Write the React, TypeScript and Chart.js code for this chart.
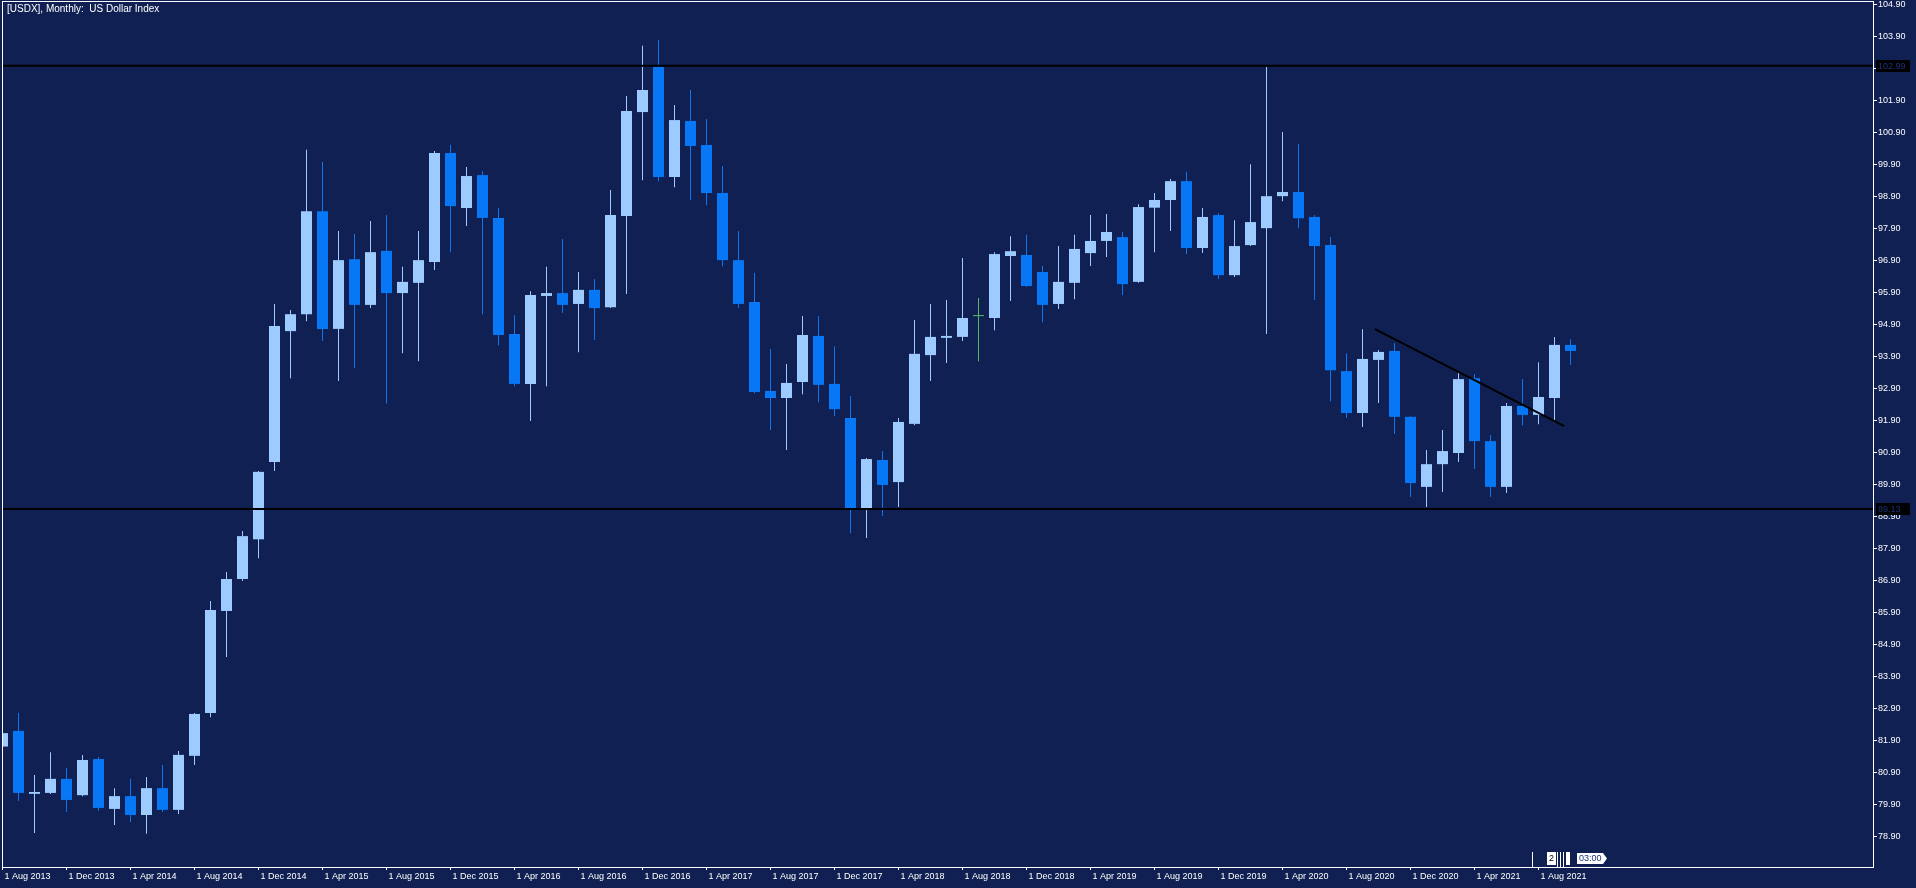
import React, { useEffect, useRef } from 'react';
import { Chart, registerables } from 'chart.js';

Chart.register(...registerables);

// Monthly candles, Aug 2013 .. Oct 2021 (index 0 = Aug 2013)
const opens = [
  81.70, 82.19, 80.22, 80.25, 80.69, 80.18, 81.31, 79.75, 80.15, 79.56, 80.40, 79.72,
  81.41, 82.75, 85.94, 86.94, 88.18, 90.60, 94.69, 95.22, 98.44, 94.76, 96.94, 95.51,
  97.20, 95.88, 96.20, 96.85, 100.26, 98.54, 99.57, 98.23, 94.60, 93.04, 95.79, 95.88,
  95.54, 95.98, 95.44, 98.29, 101.54, 102.95, 99.51, 101.26, 100.51, 99.01, 96.91, 95.60,
  92.82, 92.60, 93.10, 94.54, 93.04, 91.97, 89.16, 90.66, 89.97, 91.79, 93.94, 94.48,
  94.51, 95.16, 95.10, 97.04, 97.07, 96.54, 95.54, 96.20, 97.13, 97.51, 97.63, 96.23,
  98.55, 98.79, 99.38, 97.29, 98.32, 96.44, 97.38, 97.91, 98.91, 99.04, 98.26, 97.38,
  93.44, 92.13, 93.79, 94.07, 92.01, 89.82, 90.53, 90.88, 93.22, 91.25, 89.82, 92.35,
  92.07, 92.60, 94.26,
];
const highs = [
  82.25, 82.75, 80.81, 81.52, 81.03, 81.44, 81.37, 80.40, 80.69, 80.75, 81.12, 81.56,
  82.75, 86.25, 87.16, 88.44, 90.32, 95.54, 95.35, 100.36, 99.98, 97.82, 97.73, 98.13,
  98.32, 96.70, 97.82, 100.32, 100.51, 99.82, 99.70, 98.54, 95.19, 95.94, 96.70, 97.57,
  96.54, 96.32, 99.10, 102.04, 103.61, 103.79, 101.76, 102.23, 101.32, 99.85, 97.82, 96.51,
  94.13, 93.66, 95.16, 95.16, 94.22, 92.66, 90.72, 90.94, 91.97, 95.04, 95.54, 95.66,
  96.98, 95.73, 97.16, 97.66, 97.70, 96.73, 97.35, 97.70, 98.32, 98.35, 97.79, 98.66,
  99.01, 99.45, 99.67, 98.54, 98.38, 98.16, 99.91, 102.95, 100.92, 100.54, 98.32, 97.63,
  94.00, 94.75, 94.10, 94.32, 92.03, 90.97, 91.60, 93.44, 93.35, 91.44, 92.44, 93.19,
  93.72, 94.51, 94.44,
];
const lows = [
  81.55, 80.00, 79.00, 80.22, 79.65, 80.15, 79.69, 79.25, 79.34, 78.97, 79.65, 79.59,
  81.12, 82.62, 84.50, 86.88, 87.59, 90.32, 93.22, 95.00, 94.38, 93.13, 93.53, 95.41,
  92.43, 94.00, 93.75, 96.60, 97.16, 97.98, 95.22, 94.25, 92.97, 91.88, 92.97, 95.26,
  94.03, 94.41, 95.41, 95.85, 99.41, 99.38, 99.19, 98.79, 98.63, 96.72, 95.41, 92.75,
  91.60, 90.97, 92.72, 92.47, 92.04, 88.37, 88.22, 88.91, 89.19, 91.75, 93.13, 93.69,
  94.38, 93.75, 94.72, 95.63, 96.07, 94.97, 95.38, 95.69, 96.73, 97.01, 95.82, 96.20,
  97.16, 97.82, 97.10, 97.13, 96.32, 96.38, 97.35, 94.60, 98.75, 97.91, 95.66, 92.50,
  91.97, 91.69, 92.44, 91.47, 89.50, 89.19, 89.66, 90.60, 90.38, 89.50, 89.63, 91.75,
  91.78, 91.91, 93.63,
];
const closes = [
  82.12, 80.25, 80.28, 80.69, 80.03, 81.28, 79.78, 80.15, 79.56, 80.40, 79.72, 81.44,
  82.72, 85.97, 86.94, 88.28, 90.29, 94.85, 95.22, 98.44, 94.76, 96.91, 95.51, 97.16,
  95.88, 96.23, 96.91, 100.26, 98.60, 99.54, 98.23, 94.57, 93.04, 95.82, 95.88, 95.51,
  95.98, 95.41, 98.32, 101.57, 102.23, 99.51, 101.29, 100.48, 99.01, 96.91, 95.54, 92.79,
  92.60, 93.07, 94.57, 93.01, 92.25, 89.16, 90.69, 89.88, 91.85, 93.98, 94.51, 94.54,
  95.10, 95.16, 97.10, 97.19, 96.10, 95.51, 96.23, 97.26, 97.51, 97.79, 96.16, 98.57,
  98.79, 99.38, 97.29, 98.26, 96.44, 97.35, 98.10, 98.91, 99.04, 98.22, 97.35, 93.47,
  92.13, 93.82, 94.04, 92.01, 89.94, 90.53, 90.94, 93.19, 91.25, 89.82, 92.35, 92.07,
  92.63, 94.26, 94.07,
];

const xTickIndex = [0, 4, 8, 12, 16, 20, 24, 28, 32, 36, 40, 44, 48, 52, 56, 60, 64, 68, 72, 76, 80, 84, 88, 92, 96];
const xTickLabels = [
  '1 Aug 2013', '1 Dec 2013', '1 Apr 2014', '1 Aug 2014', '1 Dec 2014', '1 Apr 2015', '1 Aug 2015',
  '1 Dec 2015', '1 Apr 2016', '1 Aug 2016', '1 Dec 2016', '1 Apr 2017', '1 Aug 2017', '1 Dec 2017',
  '1 Apr 2018', '1 Aug 2018', '1 Dec 2018', '1 Apr 2019', '1 Aug 2019', '1 Dec 2019', '1 Apr 2020',
  '1 Aug 2020', '1 Dec 2020', '1 Apr 2021', '1 Aug 2021',
];
const yTickValues = [
  78.9, 79.9, 80.9, 81.9, 82.9, 83.9, 84.9, 85.9, 86.9, 87.9, 88.9, 89.9, 90.9, 91.9,
  92.9, 93.9, 94.9, 95.9, 96.9, 97.9, 98.9, 99.9, 100.9, 101.9, 102.9, 103.9, 104.9,
];
const levelLines = [102.99, 89.13];
const trendX = [85.78, 97.61];
const trendY = [94.75, 91.72];

const TITLE = '[USDX], Monthly:  US Dollar Index';

const BG = '#102052';
const BULL = '#9dcaff';
const BEAR = '#0777f5';
const DOJI = '#55b862';
const FONT = '"Liberation Sans", Arial, sans-serif';

const X_MIN = -0.03125;
const X_MAX = X_MIN + 1871 / 16;
const Y_MIN = 77.934;
const Y_MAX = 105.013;

const colorOf = (i: number) =>
  opens[i] === closes[i] ? DOJI : closes[i] > opens[i] ? BULL : BEAR;

const bgPlugin = {
  id: 'bgFill',
  beforeDraw(chart: any) {
    const ctx = chart.ctx;
    ctx.save();
    ctx.fillStyle = BG;
    ctx.fillRect(0, 0, chart.width, chart.height);
    ctx.restore();
  },
};

const overlayPlugin = {
  id: 'overlay',
  afterDraw(chart: any) {
    const ctx = chart.ctx;
    const { left, top, right, bottom } = chart.chartArea;
    ctx.save();
    // frame
    ctx.strokeStyle = '#ffffff';
    ctx.lineWidth = 1;
    ctx.strokeRect(left + 0.5, top + 0.5, right - left, bottom - top);

    // level price labels on the axis
    const ys = chart.scales.y;
    ctx.font = `9px ${FONT}`;
    ctx.textBaseline = 'middle';
    ctx.textAlign = 'left';
    levelLines.forEach((v) => {
      const py = Math.round(ys.getPixelForValue(v));
      ctx.fillStyle = '#000000';
      ctx.fillRect(right + 3, py - 6, 34, 12);
      ctx.fillStyle = '#1c3276';
      ctx.fillText(v.toFixed(2), right + 5, py + 0.5);
    });

    // time markers bottom right
    ctx.strokeStyle = '#ffffff';
    [1532.5, 1557.5, 1560.5, 1563.5].forEach((x) => {
      ctx.beginPath();
      ctx.moveTo(x, 852);
      ctx.lineTo(x, bottom);
      ctx.stroke();
    });
    ctx.fillStyle = '#ffffff';
    ctx.fillRect(1547, 852, 9, 13);
    ctx.fillRect(1566, 852, 4, 13);
    ctx.beginPath();
    ctx.moveTo(1577, 853);
    ctx.lineTo(1603, 853);
    ctx.lineTo(1607, 858.5);
    ctx.lineTo(1603, 864);
    ctx.lineTo(1577, 864);
    ctx.closePath();
    ctx.fill();
    ctx.fillStyle = '#000000';
    ctx.font = `9px ${FONT}`;
    ctx.textAlign = 'center';
    ctx.fillText('2', 1551.5, 859);
    ctx.fillStyle = '#1c3276';
    ctx.textAlign = 'left';
    ctx.fillText('03:00', 1579, 859);
    ctx.restore();
  },
};

export default function App() {
  const ref = useRef<HTMLCanvasElement>(null);

  useEffect(() => {
    if (!ref.current) return;
    const idx = opens.map((_, i) => i);
    const colors = idx.map(colorOf);

    const lineDs = (pts: { x: number; y: number }[]) => ({
      type: 'line' as const,
      data: pts,
      borderColor: '#000000',
      borderWidth: 2,
      pointRadius: 0,
      fill: false,
      tension: 0,
      order: 0,
    });

    const chart = new Chart(ref.current, {
      type: 'bar',
      data: {
        datasets: [
          ...levelLines.map((v) => lineDs([{ x: X_MIN - 1, y: v }, { x: X_MAX + 1, y: v }])),
          lineDs([{ x: trendX[0], y: trendY[0] }, { x: trendX[1], y: trendY[1] }]),
          {
            type: 'bar',
            data: idx.map((i) => ({ x: i, y: [opens[i], closes[i]] })),
            backgroundColor: colors,
            borderWidth: 0,
            barThickness: 11,
            grouped: false,
            minBarLength: 1,
            inflateAmount: 0,
            order: 1,
          } as any,
          {
            type: 'bar',
            data: idx.map((i) => ({ x: i, y: [lows[i], highs[i]] })),
            backgroundColor: colors,
            borderWidth: 0,
            barThickness: 1,
            grouped: false,
            inflateAmount: 0,
            order: 2,
          } as any,
        ] as any,
      },
      options: {
        animation: false,
        responsive: false,
        devicePixelRatio: 1,
        events: [],
        layout: { padding: { left: 2, top: 1, right: 0, bottom: 0 }, autoPadding: false } as any,
        plugins: { legend: { display: false }, tooltip: { enabled: false }, title: { display: false } },
        scales: {
          x: {
            type: 'linear',
            position: 'bottom',
            min: X_MIN,
            max: X_MAX,
            offset: false,
            bounds: 'data',
            grid: { display: true, drawOnChartArea: false, drawTicks: true, tickLength: 3, color: '#ffffff', offset: false },
            border: { display: false },
            afterBuildTicks: (scale: any) => {
              scale.ticks = xTickIndex.map((v) => ({ value: v }));
            },
            afterFit: (scale: any) => {
              scale.height = 21;
              scale.paddingLeft = 0;
              scale.paddingRight = 0;
            },
            ticks: {
              autoSkip: false,
              maxRotation: 0,
              minRotation: 0,
              align: 'start',
              labelOffset: 2,
              padding: 1,
              color: '#ffffff',
              font: { family: FONT, size: 9 },
              callback: (_v: any, i: number) => xTickLabels[i],
            },
          } as any,
          y: {
            type: 'linear',
            position: 'right',
            min: Y_MIN,
            max: Y_MAX,
            bounds: 'data',
            grid: { display: true, drawOnChartArea: false, drawTicks: true, tickLength: 4, color: '#ffffff' },
            border: { display: false },
            afterBuildTicks: (scale: any) => {
              scale.ticks = yTickValues.map((v) => ({ value: v }));
            },
            afterFit: (scale: any) => {
              scale.width = 43;
              scale.paddingTop = 0;
              scale.paddingBottom = 0;
            },
            ticks: {
              autoSkip: false,
              padding: 1,
              color: '#ffffff',
              font: { family: FONT, size: 9 },
              callback: (v: any) => Number(v).toFixed(2),
            },
          } as any,
        },
      },
      plugins: [bgPlugin, overlayPlugin],
    });
    return () => chart.destroy();
  }, []);

  return (
    <div style={{ position: 'fixed', left: 0, top: 0, width: 1916, height: 888, background: BG, overflow: 'hidden' }}>
      <canvas ref={ref} width={1916} height={888} style={{ display: 'block', width: 1916, height: 888 }} />
      <div
        style={{
          position: 'absolute',
          left: 7,
          top: 3,
          fontFamily: FONT,
          fontSize: 10,
          lineHeight: '12px',
          color: '#ffffff',
          whiteSpace: 'pre',
        }}
      >
        {TITLE}
      </div>
    </div>
  );
}
